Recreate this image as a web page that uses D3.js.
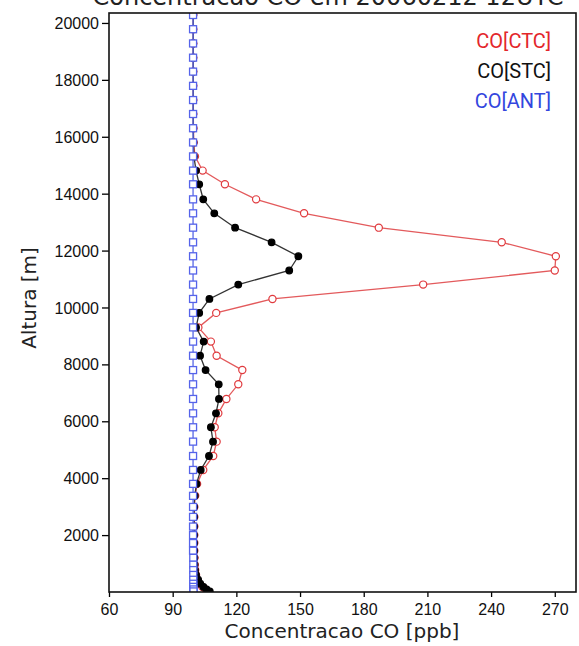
<!DOCTYPE html>
<html>
<head>
<meta charset="utf-8">
<script src="https://cdn.jsdelivr.net/npm/d3@7"></script>
<style>
  body { margin: 0; background: #fff; }
  svg { display: block; }
</style>
</head>
<body>
<svg id="chart"></svg>
<script>
// model levels (m), top to bottom
const heights = [20280, 19780, 19280, 18780, 18290, 17790, 17290, 16800, 16300, 15800,
  15310, 14810, 14330, 13800, 13310, 12805, 12290, 11800, 11300, 10805,
  10300, 9810, 9300, 8800, 8305, 7800, 7300, 6785, 6280, 5790,
  5285, 4780, 4290, 3800, 3380, 2990, 2640, 2300, 2000, 1720,
  1450, 1200, 960, 770, 600, 430, 290, 180, 90, 20];

const coCTC = [99.7, 99.7, 99.7, 99.7, 99.7, 99.7, 99.7, 99.7, 99.8, 99.9,
  100.5, 104.1, 114.6, 129.3, 151.9, 187.1, 245.0, 270.5, 270.0, 208.0,
  137.0, 110.5, 102.1, 108.0, 110.7, 122.8, 120.9, 115.3, 111.5, 109.8,
  110.7, 109.1, 104.4, 101.5, 100.6, 100.2, 100.2, 100.2, 100.2, 100.2,
  100.2, 100.3, 100.4, 100.6, 101.0, 101.5, 102.5, 104.0, 105.5, 106.0];

const coSTC = [99.7, 99.7, 99.7, 99.7, 99.7, 99.7, 99.7, 99.7, 99.7, 99.8,
  100.0, 101.0, 102.5, 104.4, 109.6, 119.4, 136.6, 149.2, 144.9, 120.9,
  107.3, 102.5, 101.0, 104.6, 102.9, 105.5, 111.7, 111.8, 110.4, 108.0,
  109.0, 107.1, 103.2, 101.2, 100.4, 100.1, 100.1, 100.1, 100.1, 100.1,
  100.1, 100.2, 100.3, 100.5, 101.0, 102.0, 103.0, 104.5, 106.0, 107.5];

const coANT = [99.6, 99.6, 99.6, 99.6, 99.6, 99.6, 99.6, 99.6, 99.6, 99.6,
  99.6, 99.6, 99.6, 99.6, 99.6, 99.6, 99.6, 99.6, 99.6, 99.6,
  99.6, 99.6, 99.6, 99.6, 99.6, 99.6, 99.6, 99.6, 99.6, 99.6,
  99.6, 99.6, 99.6, 99.6, 99.6, 99.6, 99.6, 99.6, 99.6, 99.6,
  99.6, 99.7, 99.7, 99.7, 99.7, 99.7, 99.7, 99.7, 99.8, 99.8];

const xTicks = [60, 90, 120, 150, 180, 210, 240, 270];
const yTicks = [2000, 4000, 6000, 8000, 10000, 12000, 14000, 16000, 18000, 20000];
const legendLabels = ["CO[CTC]", "CO[STC]", "CO[ANT]"];
const titleText = "Concentracao CO em 20060212 12UTC";

const width = 579, height = 646;
const margin = { top: 13, right: 3, bottom: 54, left: 109 };

const svg = d3.select("#chart")
  .attr("width", width)
  .attr("height", height);

const x = d3.scaleLinear()
  .domain([60, 280])
  .range([margin.left, width - margin.right]);

const y = d3.scaleLinear()
  .domain([0, 20350])
  .range([height - margin.bottom, margin.top]);

// title, cut by the top edge as in the source image
svg.append("text")
  .attr("x", 328)
  .attr("y", 5)
  .attr("text-anchor", "middle")
  .attr("font-family", "DejaVu Sans")
  .attr("font-size", 24)
  .attr("fill", "#222")
  .text(titleText);

svg.append("clipPath").attr("id", "plotclip")
  .append("rect")
  .attr("x", margin.left)
  .attr("y", margin.top)
  .attr("width", width - margin.left - margin.right)
  .attr("height", height - margin.top - margin.bottom);

const plot = svg.append("g").attr("clip-path", "url(#plotclip)");

const series = [
  { name: "CTC", values: coCTC, line: "#e35a5c", mark: "#e03a3e", shape: "circle-open" },
  { name: "STC", values: coSTC, line: "#333", mark: "#000", shape: "circle-filled" },
  { name: "ANT", values: coANT, line: "#5a69e6", mark: "#5563ea", shape: "square" }
];

series.forEach(s => {
  const pts = heights.map((h, i) => ({ h: h, v: s.values[i] }));
  const line = d3.line()
    .x(d => x(d.v))
    .y(d => y(d.h));

  plot.append("path")
    .datum(pts)
    .attr("d", line)
    .attr("fill", "none")
    .attr("stroke", s.line)
    .attr("stroke-width", 1.3);

  if (s.shape === "square") {
    plot.selectAll(null)
      .data(pts)
      .join("rect")
      .attr("x", d => x(d.v) - 3.5)
      .attr("y", d => y(d.h) - 3.5)
      .attr("width", 7)
      .attr("height", 7)
      .attr("fill", "#fff")
      .attr("stroke", s.mark)
      .attr("stroke-width", 1.3);
  } else {
    plot.selectAll(null)
      .data(pts)
      .join("circle")
      .attr("cx", d => x(d.v))
      .attr("cy", d => y(d.h))
      .attr("r", s.shape === "circle-open" ? 3.6 : 3.3)
      .attr("fill", s.shape === "circle-open" ? "#fff" : s.mark)
      .attr("stroke", s.mark)
      .attr("stroke-width", 1.2);
  }
});

// axes
const xAxis = d3.axisBottom(x)
  .tickValues(xTicks)
  .tickSize(5)
  .tickSizeOuter(0);

const yAxis = d3.axisLeft(y)
  .tickValues(yTicks)
  .tickSize(7)
  .tickSizeOuter(0)
  .tickFormat(d3.format("d"));

const gx = svg.append("g")
  .attr("transform", `translate(0, ${height - margin.bottom})`)
  .call(xAxis);

const gy = svg.append("g")
  .attr("transform", `translate(${margin.left}, 0)`)
  .call(yAxis);

[gx, gy].forEach(g => {
  g.select(".domain").remove();
  g.selectAll(".tick line").attr("stroke", "#000").attr("stroke-width", 1.3);
  g.selectAll(".tick text")
    .attr("font-family", "Liberation Sans")
    .attr("font-size", 16)
    .attr("fill", "#111");
});
gx.selectAll(".tick text").attr("dy", "0.95em");
gy.selectAll(".tick text").attr("dy", "0.35em").attr("x", -10);

// frame
svg.append("rect")
  .attr("x", margin.left)
  .attr("y", margin.top)
  .attr("width", width - margin.left - margin.right)
  .attr("height", height - margin.top - margin.bottom)
  .attr("fill", "none")
  .attr("stroke", "#111")
  .attr("stroke-width", 1.6);

// axis titles
svg.append("text")
  .attr("x", 342)
  .attr("y", 638)
  .attr("text-anchor", "middle")
  .attr("font-family", "DejaVu Sans")
  .attr("font-size", 20)
  .attr("fill", "#222")
  .text("Concentracao CO [ppb]");

svg.append("text")
  .attr("transform", "translate(36, 298) rotate(-90)")
  .attr("text-anchor", "middle")
  .attr("font-family", "DejaVu Sans")
  .attr("font-size", 20)
  .attr("fill", "#222")
  .text("Altura [m]");

// legend
const legendColors = ["#e3262b", "#111", "#3346de"];
svg.selectAll(".legend")
  .data(legendLabels)
  .join("text")
  .attr("class", "legend")
  .attr("x", 551)
  .attr("y", (d, i) => 48 + i * 30)
  .attr("text-anchor", "end")
  .attr("font-family", "Roboto")
  .attr("font-size", 20)
  .attr("fill", (d, i) => legendColors[i])
  .text(d => d);
</script>
</body>
</html>
